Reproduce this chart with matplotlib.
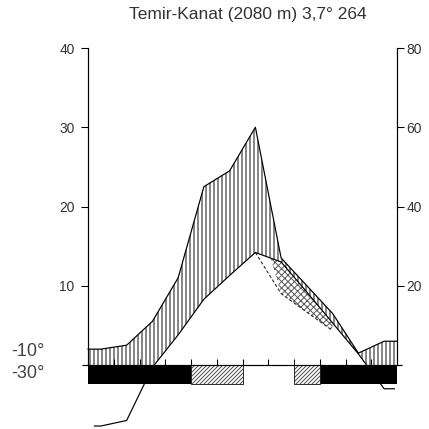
import numpy as np
import matplotlib
matplotlib.use('Agg')
import matplotlib.pyplot as plt
from matplotlib.patches import Rectangle

# --- climate data ---
title = 'Temir-Kanat (2080 m) 3,7° 264'
months = ['Jan', 'Feb', 'Mar', 'Apr', 'May', 'Jun',
          'Jul', 'Aug', 'Sep', 'Oct', 'Nov', 'Dec']
temp_c = [-7.7, -7.0, -0.3, 3.8, 8.3, 11.3, 14.2, 13.0, 9.2, 5.3, 1.4, -3.0]
precip_mm = [4, 5, 11, 22, 45, 49, 60, 27, 20, 13, 3, 6]
# frost bar under the axis: black = frost every year, hatch = possible frost
frost = ['black', 'black', 'black', 'black', 'hatch', 'hatch',
         'none', 'none', 'hatch', 'black', 'black', 'black']
min_labels = ['-10°', '-30°']
temp_ticks = [10, 20, 30, 40]
precip_ticks = [20, 40, 60, 80]

plt.rcParams['font.family'] = ['Liberation Sans', 'DejaVu Sans']
plt.rcParams['hatch.linewidth'] = 0.7

DPI = 96
fig = plt.figure(figsize=(429 / DPI, 429 / DPI), dpi=DPI)
ax = fig.add_axes([0, 0, 1, 1])
ax.patch.set_visible(False)

# pixel layout of the original: 12 months over 88..397 px, 0..40 degC over 365..48 px
px_month = (397 - 88) / 12
px_deg = (365 - 48) / 40
ax.set_xlim(-88 / px_month, 12 + (429 - 397) / px_month)
ax.set_ylim(-(429 - 365) / px_deg, 365 / px_deg)

temp = np.array(temp_c)
p2 = np.array(precip_mm) / 2.0   # 10 degC = 20 mm
p3 = np.array(precip_mm) / 3.0   # 10 degC = 30 mm (dashed arid line)
x = np.arange(12) + 0.5

# humid period: vertical hatch between temperature and precipitation, above 0
xe = np.r_[0, x, 12]
te = np.r_[temp[0], temp, temp[-1]]
pe = np.r_[p2[0], p2, p2[-1]]
humid = ax.fill_between(xe, te, pe, where=pe > te, interpolate=True,
                        facecolor='none', edgecolor='black', hatch='||||', linewidth=0)
humid.set_clip_path(Rectangle((0, 0), 12, 60, transform=ax.transData))

# semi-arid period (summer): dotted between dashed precip line and temperature
sl = slice(6, 10)
ax.fill_between(x[sl], p3[sl], temp[sl], where=p3[sl] < temp[sl], interpolate=True,
                facecolor='none', edgecolor='#555555', hatch='xxxxx', linewidth=0)
ax.plot(x[sl], np.minimum(p3[sl], temp[sl]), color='#222222', lw=0.8, ls=(0, (3, 2)))

# curves
ax.plot(np.r_[0.25, x, 11.9], np.r_[temp[0], temp, temp[-1]], color='black', lw=0.9)
ax.plot(xe, pe, color='black', lw=0.9)

# frost bar
bar_h = 19 / px_deg
for i, kind in enumerate(frost):
    if kind == 'black':
        ax.bar(x[i], -bar_h, width=1, color='black', linewidth=0)
    elif kind == 'hatch':
        ax.bar(x[i], -bar_h, width=1, facecolor='white', edgecolor='#444444',
               hatch='////////', linewidth=0)
# thin outline around each run of hatched months
i = 0
while i < 12:
    if frost[i] == 'hatch':
        j = i
        while j + 1 < 12 and frost[j + 1] == 'hatch':
            j += 1
        ax.add_patch(Rectangle((i, -bar_h), j - i + 1, bar_h, fill=False,
                               edgecolor='#222222', linewidth=0.7))
        i = j + 1
    else:
        i += 1

# baseline and month ticks
ax.hlines(0, -0.23, 12.2, color='black', lw=0.9)
ax.vlines(np.arange(1, 12), 0, 0.75, color='black', lw=0.8)

# axes: left temperature, right precipitation
for s in ['top', 'bottom', 'right']:
    ax.spines[s].set_visible(False)
ax.spines['left'].set_position(('data', 0))
ax.spines['left'].set_bounds(0, 40)
ax.spines['left'].set_linewidth(0.9)
ax.set_xticks([])
ax.set_yticks(temp_ticks)
ax.set_yticklabels([str(t) for t in temp_ticks])
ax.tick_params(axis='y', direction='out', length=5.6, width=0.8, pad=4.5,
               labelsize=10.3, labelcolor='#333333')

ax2 = ax.twinx()
ax2.set_ylim(ax.get_ylim())
for s in ['top', 'bottom', 'left']:
    ax2.spines[s].set_visible(False)
ax2.spines['right'].set_position(('data', 12))
ax2.spines['right'].set_bounds(0, 40)
ax2.spines['right'].set_linewidth(0.9)
ax2.set_yticks(np.array(precip_ticks) / 2)
ax2.set_yticklabels([str(t) for t in precip_ticks])
ax2.tick_params(axis='y', direction='out', length=5.6, width=0.8, pad=1.5,
                labelsize=10.3, labelcolor='#333333')

# texts
fig.text(248 / 429, 1 - 15 / 429, title, ha='center', va='center', fontsize=13, color='#333333')
fig.text(45 / 429, 1 - 352 / 429, min_labels[0], ha='right', va='center', fontsize=13.5, color='#444444')
fig.text(45 / 429, 1 - 374 / 429, min_labels[1], ha='right', va='center', fontsize=13.5, color='#444444')

fig.savefig('out.png', dpi=DPI)
